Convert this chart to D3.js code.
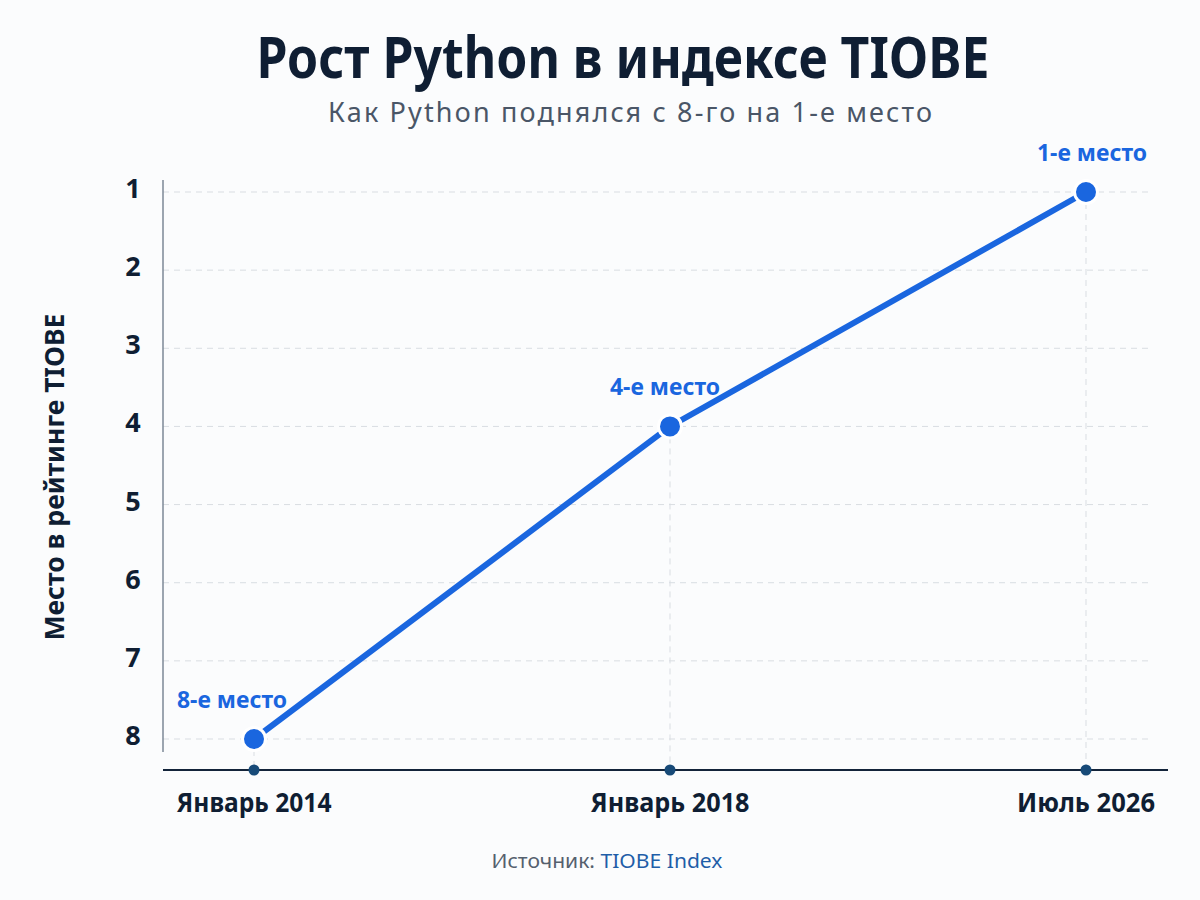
<!DOCTYPE html>
<html lang="ru">
<head>
<meta charset="UTF-8">
<title>Рост Python в индексе TIOBE</title>
<style>
  body { margin: 0; background: #fbfcfd; font-family: "Noto Sans", "Open Sans", sans-serif; }
  svg { display: block; }
</style>
</head>
<body>
<div id="chart"></div>
<script src="https://d3js.org/d3.v7.min.js"></script>
<script>
// data
const periods = ["Январь 2014", "Январь 2018", "Июль 2026"];
const ranks = [8, 4, 1];
const pointLabels = ["8-е место", "4-е место", "1-е место"];
const rankTicks = [1, 2, 3, 4, 5, 6, 7, 8];

const W = 1200, H = 900;
const margin = { top: 192, right: 114, bottom: 161, left: 163 };

const blue = "#1a66df", navy = "#0f1e33";

const svg = d3.select("#chart").append("svg")
  .attr("width", W).attr("height", H);

// title + subtitle (squeezed to the condensed look of the original)
svg.append("text").attr("x", 623).attr("y", 78)
  .attr("text-anchor", "middle")
  .attr("textLength", 733).attr("lengthAdjust", "spacingAndGlyphs")
  .style("font-size", "57px").style("font-weight", 700)
  .attr("fill", navy)
  .text("Рост Python в индексе TIOBE");
svg.append("text").attr("x", 630).attr("y", 122)
  .attr("text-anchor", "middle")
  .attr("textLength", 604).attr("lengthAdjust", "spacing")
  .style("font-size", "27px").attr("fill", "#4a5667")
  .text("Как Python поднялся с 8-го на 1-е место");

const g = svg.append("g").attr("transform", `translate(${margin.left},${margin.top})`);

const x = d3.scalePoint().domain(periods).range([91, 923]);
const y = d3.scaleLinear().domain([1, 8]).range([0, 547]);

// horizontal grid
g.append("g")
  .selectAll("line")
  .data(rankTicks)
  .join("line")
  .attr("x1", 0).attr("x2", 990)
  .attr("y1", d => y(d)).attr("y2", d => y(d))
  .attr("stroke", "#d9dde2").attr("stroke-width", 1)
  .attr("stroke-dasharray", "6,5");

// vertical drop lines
g.append("g")
  .selectAll("line")
  .data(periods)
  .join("line")
  .attr("x1", d => x(d)).attr("x2", d => x(d))
  .attr("y1", (d, i) => y(ranks[i])).attr("y2", 578)
  .attr("stroke", "#d9dde2").attr("stroke-width", 1)
  .attr("stroke-dasharray", "6,5");

// y axis line
g.append("line").attr("x1", 0).attr("x2", 0).attr("y1", -12).attr("y2", 560)
  .attr("stroke", "#7d8896").attr("stroke-width", 1.5);

// y tick labels
g.append("g")
  .selectAll("text")
  .data(rankTicks)
  .join("text")
  .attr("x", -30).attr("y", d => y(d))
  .attr("dy", "0.22em")
  .attr("text-anchor", "middle")
  .style("font-size", "27px").style("font-weight", 700)
  .attr("fill", navy)
  .text(d => d);

// y axis title
svg.append("text")
  .attr("transform", "translate(64,477) rotate(-90)")
  .attr("text-anchor", "middle")
  .attr("textLength", 327).attr("lengthAdjust", "spacingAndGlyphs")
  .style("font-size", "26px").style("font-weight", 700)
  .attr("fill", navy)
  .text("Место в рейтинге TIOBE");

// x axis line
g.append("line").attr("x1", 0).attr("x2", 1005).attr("y1", 578).attr("y2", 578)
  .attr("stroke", "#13243a").attr("stroke-width", 2);

// x tick dots + labels
g.append("g").selectAll("circle")
  .data(periods).join("circle")
  .attr("cx", d => x(d)).attr("cy", 578).attr("r", 5.5)
  .attr("fill", "#174a78");
const tickLen = [155, 159, 138];
g.append("g").selectAll("text")
  .data(periods).join("text")
  .attr("x", d => x(d)).attr("y", 620)
  .attr("text-anchor", "middle")
  .attr("textLength", (d, i) => tickLen[i]).attr("lengthAdjust", "spacingAndGlyphs")
  .style("font-size", "26px").style("font-weight", 700)
  .attr("fill", navy)
  .text(d => d);

// line
const pts = periods.map((p, i) => ({ p, r: ranks[i], label: pointLabels[i] }));
g.append("path").datum(pts)
  .attr("fill", "none").attr("stroke", blue).attr("stroke-width", 6)
  .attr("stroke-linecap", "round")
  .attr("d", d3.line().x(d => x(d.p)).y(d => y(d.r)));

g.append("g").selectAll("circle")
  .data(pts).join("circle")
  .attr("cx", d => x(d.p)).attr("cy", d => y(d.r)).attr("r", 11.5)
  .attr("fill", blue).attr("stroke", "#fff").attr("stroke-width", 3);

// point labels
const labelOffsetX = [-22, -5, 6];
g.append("g").selectAll("text")
  .data(pts).join("text")
  .attr("x", (d, i) => x(d.p) + labelOffsetX[i])
  .attr("y", d => y(d.r) - 31)
  .attr("text-anchor", "middle")
  .attr("textLength", 110).attr("lengthAdjust", "spacingAndGlyphs")
  .style("font-size", "24px").style("font-weight", 700)
  .attr("fill", blue)
  .text(d => d.label);

// source
const src = svg.append("text").attr("x", 607).attr("y", 868)
  .attr("text-anchor", "middle")
  .attr("textLength", 231).attr("lengthAdjust", "spacingAndGlyphs")
  .style("font-size", "20px");
src.append("tspan").attr("fill", "#55606e").text("Источник: ");
src.append("tspan").attr("fill", "#1f5ea8").text("TIOBE Index");
</script>
</body>
</html>
